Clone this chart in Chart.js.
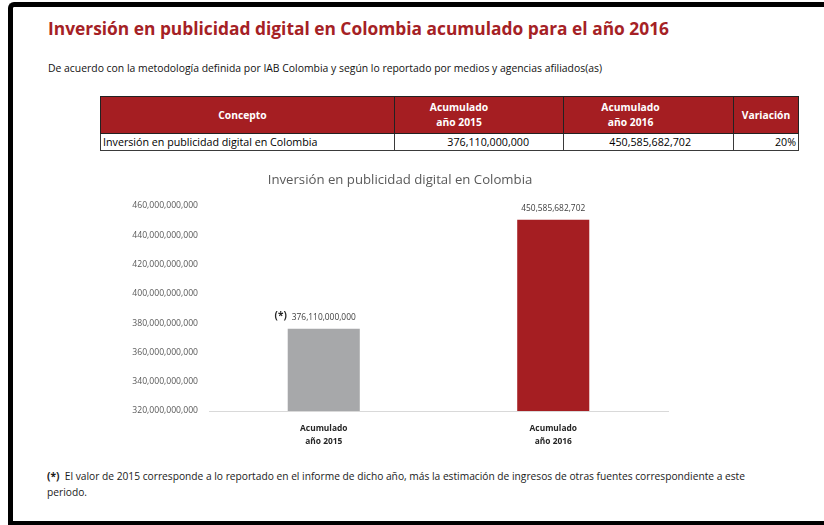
<!DOCTYPE html>
<html>
<head>
<meta charset="utf-8">
<script src="https://cdn.jsdelivr.net/npm/chart.js@4"></script>
<style>
  html, body { margin: 0; padding: 0; }
  body { width: 824px; height: 525px; position: relative; overflow: hidden; background: #fff;
         font-family: "Open Sans", "Noto Sans", sans-serif; }
  #frame { position: absolute; left: 8px; top: 2px; width: 900px; height: 514px;
           border-top: 5px solid #000; border-left: 5px solid #000; border-bottom: 5px solid #000;
           border-top-left-radius: 6px; }
  .line { position: absolute; white-space: nowrap; transform-origin: 0 0; }
  #title { left: 48px; top: 16px; font-size: 18.6px; line-height: 24px; font-weight: 700; color: #A52125; }
  #subtitle { left: 48px; top: 61px; font-size: 10.5px; line-height: 14px; color: #111; }
  #note1 { left: 47px; top: 468px; font-size: 10.8px; line-height: 16px; color: #1a1a1a; }
  #note2 { left: 47px; top: 484px; font-size: 10.8px; line-height: 16px; color: #1a1a1a; }
  #summary { position: absolute; left: 100px; top: 96px; border-collapse: collapse; table-layout: fixed; }
  #summary th, #summary td { border: 1px solid #3a3a3a; padding: 0; overflow: visible; white-space: nowrap; }
  #summary th { background: #A51E22; color: #fff; font-weight: 700; font-size: 10.3px; line-height: 15px; height: 36px; text-align: center; }
  #summary td { font-size: 10.7px; line-height: 15px; height: 16px; color: #000; }
  #summary tr.head th { border-color: #222; }
  #chartBox { position: absolute; left: 100px; top: 160px; width: 600px; height: 300px; }
</style>
</head>
<body>
<div id="frame"></div>

<div class="line" id="title" data-w="621">Inversión en publicidad digital en Colombia acumulado para el año 2016</div>
<div class="line" id="subtitle" data-w="554">De acuerdo con la metodología definida por IAB Colombia y según lo reportado por medios y agencias afiliados(as)</div>

<table id="summary">
  <colgroup>
    <col style="width:294px"><col style="width:169px"><col style="width:170px"><col style="width:65px">
  </colgroup>
  <tr class="head">
    <th style="padding-right:10px">Concepto</th>
    <th style="padding-right:40px">Acumulado<br>año 2015</th>
    <th style="padding-right:36px">Acumulado<br>año 2016</th>
    <th>Variación</th>
  </tr>
  <tr>
    <td id="rowLabel" style="padding-left:2px"></td>
    <td id="val2015" style="text-align:right;padding-right:34px"></td>
    <td id="val2016" style="text-align:right;padding-right:42px"></td>
    <td id="varCell" style="text-align:right;padding-right:2px"></td>
  </tr>
</table>

<div id="chartBox"><canvas id="chart" width="600" height="300"></canvas></div>

<div class="line" id="note1" data-w="698"><b>(*)</b>&nbsp; El valor de 2015 corresponde a lo reportado en el informe de dicho año, más la estimación de ingresos de otras fuentes correspondiente a este</div>
<div class="line" id="note2">periodo.</div>

<script>
// Chart data
const chartTitle = 'Inversión en publicidad digital en Colombia';
const categories = [['Acumulado', 'año 2015'], ['Acumulado', 'año 2016']];
const investment = [376110000000, 450585682702];
const labelPrefixes = ['(*)', ''];
const barColors = ['#A7A8AA', '#A51E22'];
const axisMin = 320000000000;
const axisMax = 460000000000;
const axisStep = 20000000000;
const variation = '20%';

const fmt = v => v.toLocaleString('en-US');

// Summary table row
document.getElementById('rowLabel').textContent = chartTitle;
document.getElementById('val2015').textContent = fmt(investment[0]);
document.getElementById('val2016').textContent = fmt(investment[1]);
document.getElementById('varCell').textContent = variation;

// Squeeze long text lines to their printed width
document.querySelectorAll('.line[data-w]').forEach(el => {
  const w = el.getBoundingClientRect().width;
  el.style.transform = 'scaleX(' + (parseFloat(el.dataset.w) / w) + ')';
});
const n2 = document.getElementById('note2');
const n1 = document.getElementById('note1');
n2.style.transform = n1.style.transform;

const FONT = '"Open Sans", "Noto Sans", sans-serif';

// Value labels above each bar
const valueLabels = {
  id: 'valueLabels',
  afterDatasetsDraw(chart) {
    const ctx = chart.ctx;
    const meta = chart.getDatasetMeta(0);
    ctx.save();
    ctx.textBaseline = 'middle';
    meta.data.forEach((bar, i) => {
      const text = fmt(investment[i]);
      const y = bar.y - 11.5;
      ctx.font = '8.4px ' + FONT;
      ctx.fillStyle = '#404040';
      ctx.textAlign = 'center';
      ctx.fillText(text, bar.x, y);
      if (labelPrefixes[i]) {
        const w = ctx.measureText(text).width;
        ctx.font = 'bold 10px ' + FONT;
        ctx.fillStyle = '#262626';
        ctx.textAlign = 'right';
        ctx.fillText(labelPrefixes[i], bar.x - w / 2 - 5, y - 1);
      }
    });
    ctx.restore();
  }
};

new Chart(document.getElementById('chart'), {
  type: 'bar',
  data: {
    labels: categories,
    datasets: [{
      data: investment,
      backgroundColor: barColors,
      borderWidth: 0,
      barPercentage: 0.314,
      categoryPercentage: 1
    }]
  },
  options: {
    responsive: false,
    animation: false,
    layout: { padding: { left: 32, right: 32, top: 0, bottom: 0 } },
    plugins: {
      legend: { display: false },
      tooltip: { enabled: false },
      title: {
        display: true,
        text: chartTitle,
        color: '#595959',
        font: { family: FONT, size: 13.2, weight: 'normal', lineHeight: 1.2 },
        padding: { top: 12, bottom: 18.2 }
      }
    },
    scales: {
      x: {
        grid: { display: false },
        border: { display: true, color: '#D9D9D9', width: 1 },
        ticks: {
          color: '#262626',
          padding: 3,
          font: { family: FONT, size: 8.4, weight: 'bold', lineHeight: 1.55 },
          maxRotation: 0
        },
        afterFit(scale) { scale.height = 49; }
      },
      y: {
        min: axisMin,
        max: axisMax,
        grid: { display: false },
        border: { display: false },
        ticks: {
          stepSize: axisStep,
          color: '#595959',
          padding: 3,
          font: { family: FONT, size: 8.6 },
          callback: v => fmt(v)
        },
        afterFit(scale) { scale.width = 77; }
      }
    }
  },
  plugins: [valueLabels]
});
</script>
</body>
</html>
